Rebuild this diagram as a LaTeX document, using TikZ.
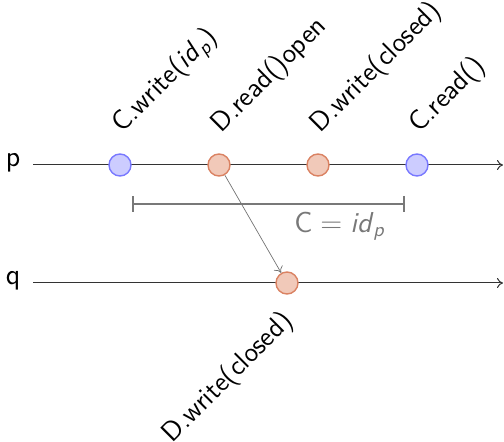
\documentclass[tikz,border=0pt]{standalone}
\usetikzlibrary{arrows.meta}
\definecolor{bfill}{RGB}{204,204,255}
\definecolor{bdraw}{RGB}{120,120,255}
\definecolor{ofill}{RGB}{241,201,185}
\definecolor{odraw}{RGB}{218,130,98}
\definecolor{brk}{RGB}{120,120,120}
\tikzset{
  evb/.style={circle,minimum size=11pt,inner sep=0pt,fill=bfill,draw=bdraw,line width=0.7pt},
  evo/.style={circle,minimum size=11pt,inner sep=0pt,fill=ofill,draw=odraw,line width=0.7pt},
  tl/.style={draw=black!80,line width=0.5pt,-{To[length=3pt,width=5pt]}},
  lab/.style={rotate=45,inner sep=0pt,font=\sffamily\fontsize{13.8}{16}\selectfont},
  proc/.style={font=\sffamily\Large,inner sep=0pt},
  msg/.style={draw=black!55,line width=0.35pt,-{To[length=3pt,width=5pt]}},
}
\begin{document}
\begin{tikzpicture}[x=0.5pt,y=-0.5pt]
\useasboundingbox (0,0) rectangle (504,442);
\node[proc] (p) at (13,163) {p};
\node[proc] (q) at (13,281) {q};
\coordinate (pS) at (33,165);
\coordinate (pE) at (503,165);
\coordinate (qS) at (33,283);
\coordinate (qE) at (503,283);
\draw[tl] (pS) -- (pE);
\draw[tl] (qS) -- (qE);
\node[evb] (a) at (120,165) {};
\node[evo] (b) at (219,165) {};
\node[evo] (c) at (318,165) {};
\node[evb] (d) at (417,165) {};
\node[evo] (e) at (287,283) {};
\node[lab,anchor=base west] (la) at (122,134) {C.write(\textit{id}\textsubscript{\textit{p}})};
\node[lab,anchor=base west] (lb) at (221,134) {D.read()open};
\node[lab,anchor=base west] (lc) at (320,134) {D.write(closed)};
\node[lab,anchor=base west] (ld) at (419,134) {C.read()};
\node[lab,anchor=base east] (le) at (294,322) {D.write(closed)};
\draw[msg] (b) -- (e);
\coordinate (s1) at (132,204);
\coordinate (s2) at (405,204);
\draw[draw=brk,line width=1pt,{Bar[width=8pt]}-{Bar[width=8pt]}] (s1) -- (s2);
\node[font=\sffamily\Large,text=brk,inner sep=0pt] (cl) at (340,226) {C${}={}$\textit{id}\textsubscript{\textit{p}}};
\end{tikzpicture}
\end{document}
